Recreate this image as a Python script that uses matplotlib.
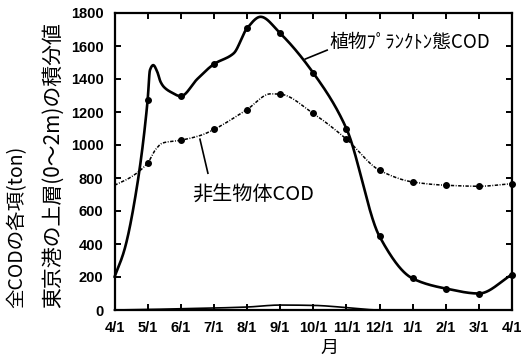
import numpy as np
import matplotlib
matplotlib.use("Agg")
import matplotlib.pyplot as plt

# Month index: 0 = 4/1, 12 = following 4/1
month_labels = ["4/1", "5/1", "6/1", "7/1", "8/1", "9/1", "10/1", "11/1",
                "12/1", "1/1", "2/1", "3/1", "4/1"]
obs_months = [1, 2, 3, 4, 5, 6, 7, 8, 9, 10, 11, 12]

# Phytoplankton COD (ton), monthly observations
plankton = [1271, 1296, 1490, 1707, 1677, 1437, 1100, 446, 191, 130, 100, 215]
# Additional points that shape the phytoplankton curve between observations
plankton_extra_x = [0, 0.3, 0.66, 1.07, 1.17, 1.29, 1.39, 1.49, 1.69, 2.5, 3.6, 4.41]
plankton_extra_y = [200, 365, 725, 1454, 1484, 1444, 1383, 1352, 1322, 1400, 1556, 1777]

# Non-living COD (ton), monthly observations
nonliving = [891, 1029, 1094, 1215, 1308, 1191, 1036, 847, 776, 756, 750, 766]
nonliving_extra_x = [0, 0.5, 1.25, 1.45, 2.61, 4.71]
nonliving_extra_y = [756, 806, 975, 1012, 1059, 1310]

# Small component running along the bottom of the chart
minor_x = [0, 1, 2, 3, 4, 5, 6, 7, 8, 12]
minor_y = [0, 3, 8, 12, 18, 30, 28, 15, 0, 0]


def pchip(x, y, xs):
    """Monotone piecewise cubic Hermite interpolation (Fritsch-Carlson)."""
    x = np.asarray(x, float)
    y = np.asarray(y, float)
    h = np.diff(x)
    delta = np.diff(y) / h
    n = len(x)
    d = np.zeros(n)
    for k in range(1, n - 1):
        if delta[k - 1] * delta[k] > 0:
            w1 = 2 * h[k] + h[k - 1]
            w2 = h[k] + 2 * h[k - 1]
            d[k] = (w1 + w2) / (w1 / delta[k - 1] + w2 / delta[k])
    d[0] = delta[0]
    d[-1] = delta[-1]
    idx = np.clip(np.searchsorted(x, xs) - 1, 0, n - 2)
    t = (xs - x[idx]) / h[idx]
    h00 = 2 * t**3 - 3 * t**2 + 1
    h10 = t**3 - 2 * t**2 + t
    h01 = -2 * t**3 + 3 * t**2
    h11 = t**3 - t**2
    return (h00 * y[idx] + h10 * h[idx] * d[idx]
            + h01 * y[idx + 1] + h11 * h[idx] * d[idx + 1])


def knots(mx, my, ex, ey):
    xs = np.concatenate([mx, ex])
    ys = np.concatenate([my, ey])
    order = np.argsort(xs)
    return xs[order], ys[order]


cjk = ["Noto Sans CJK JP", "DejaVu Sans"]

fig = plt.figure(figsize=(5.24, 3.60), dpi=100)
left, right, bottom, top = 114.5 / 524, 512 / 524, 1 - 310 / 360, 1 - 13 / 360
ax = fig.add_axes([left, bottom, right - left, top - bottom])

xx = np.linspace(0, 12, 1200)

px, py = knots(obs_months, plankton, plankton_extra_x, plankton_extra_y)
ax.plot(xx, pchip(px, py, xx), color="black", lw=1.9, solid_capstyle="round",
        clip_on=False)
ax.plot(obs_months, plankton, "o", color="black", ms=4, clip_on=False)

nx, ny = knots(obs_months, nonliving, nonliving_extra_x, nonliving_extra_y)
ax.plot(xx, pchip(nx, ny, xx), color="black", lw=1.1,
        linestyle=(0, (2.2, 1.0, 0.6, 1.0)), clip_on=False)
ax.plot(obs_months, nonliving, "o", color="black", ms=4, clip_on=False)

mxx = np.linspace(0, 12, 600)
ax.plot(mxx, pchip(minor_x, minor_y, mxx), color="black", lw=1.2, clip_on=False)

ax.set_xlim(0, 12)
ax.set_ylim(0, 1800)
ax.set_xticks(range(13))
ax.set_xticklabels(month_labels)
ax.set_yticks(range(0, 1801, 200))

for sp in ax.spines.values():
    sp.set_linewidth(1.6)
ax.tick_params(direction="in", length=4, width=1.4, top=True, right=True,
               labelsize=10.5)
ax.tick_params(axis="x", pad=8)
ax.tick_params(axis="y", pad=8)
for lab in ax.get_xticklabels() + ax.get_yticklabels():
    lab.set_fontfamily("Liberation Sans")
    lab.set_fontweight("bold")

# Series labels with leader lines
ax.text(6.50, 1624, "植物ﾌﾟﾗﾝｸﾄﾝ態COD", family=cjk, fontsize=13.5,
        ha="left", va="center")
ax.plot([5.76, 6.42], [1521, 1575], color="black", lw=1.2)
ax.text(2.35, 695, "非生物体COD", family=cjk, fontsize=14.5,
        ha="left", va="center")
ax.plot([2.58, 2.82], [1035, 829], color="black", lw=1.2)

# Axis titles
fig.text(329 / 524, 1 - 348 / 360, "月", family=cjk, fontsize=13,
         ha="center", va="center")
fig.text(17 / 524, 1 - 308 / 360, "全CODの各項(ton)", family=cjk,
         fontsize=14, rotation=90, ha="center", va="bottom")
fig.text(53 / 524, 1 - 308 / 360, "東京港の上層(0～2m)の積分値", family=cjk,
         fontsize=15, rotation=90, ha="center", va="bottom")

fig.savefig("out.png", dpi=100)
